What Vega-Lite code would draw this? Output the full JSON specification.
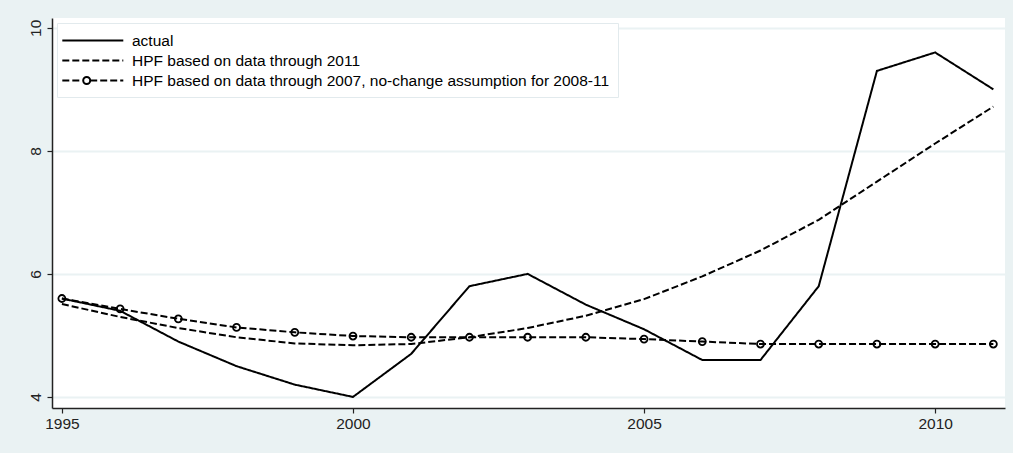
{
  "$schema": "https://vega.github.io/schema/vega-lite/v6.json",
  "width": 953,
  "height": 390,
  "autosize": {"type": "none"},
  "padding": {"left": 52, "top": 18, "right": 8, "bottom": 45},
  "background": "#eaf2f3",
  "config": {
    "view": {"fill": "white", "stroke": null},
    "font": "Liberation Sans",
    "axis": {
      "labelFont": "Liberation Sans",
      "labelFontSize": 15.5,
      "labelColor": "#222222",
      "domainColor": "#222222",
      "domainWidth": 1.5,
      "tickColor": "#222222",
      "tickSize": 5,
      "tickWidth": 1.2,
      "title": null
    }
  },
  "data": {
    "values": [
      {"year": 1995, "series": "actual", "value": 5.6},
      {"year": 1996, "series": "actual", "value": 5.4},
      {"year": 1997, "series": "actual", "value": 4.9},
      {"year": 1998, "series": "actual", "value": 4.5},
      {"year": 1999, "series": "actual", "value": 4.2},
      {"year": 2000, "series": "actual", "value": 4.0},
      {"year": 2001, "series": "actual", "value": 4.7},
      {"year": 2002, "series": "actual", "value": 5.8},
      {"year": 2003, "series": "actual", "value": 6.0},
      {"year": 2004, "series": "actual", "value": 5.5},
      {"year": 2005, "series": "actual", "value": 5.1},
      {"year": 2006, "series": "actual", "value": 4.6},
      {"year": 2007, "series": "actual", "value": 4.6},
      {"year": 2008, "series": "actual", "value": 5.8},
      {"year": 2009, "series": "actual", "value": 9.3},
      {"year": 2010, "series": "actual", "value": 9.6},
      {"year": 2011, "series": "actual", "value": 9.0},
      {"year": 1995, "series": "HPF based on data through 2011", "value": 5.51},
      {"year": 1996, "series": "HPF based on data through 2011", "value": 5.30},
      {"year": 1997, "series": "HPF based on data through 2011", "value": 5.12},
      {"year": 1998, "series": "HPF based on data through 2011", "value": 4.97},
      {"year": 1999, "series": "HPF based on data through 2011", "value": 4.87},
      {"year": 2000, "series": "HPF based on data through 2011", "value": 4.84},
      {"year": 2001, "series": "HPF based on data through 2011", "value": 4.86},
      {"year": 2002, "series": "HPF based on data through 2011", "value": 4.97},
      {"year": 2003, "series": "HPF based on data through 2011", "value": 5.12},
      {"year": 2004, "series": "HPF based on data through 2011", "value": 5.32},
      {"year": 2005, "series": "HPF based on data through 2011", "value": 5.59},
      {"year": 2006, "series": "HPF based on data through 2011", "value": 5.96},
      {"year": 2007, "series": "HPF based on data through 2011", "value": 6.38},
      {"year": 2008, "series": "HPF based on data through 2011", "value": 6.88},
      {"year": 2009, "series": "HPF based on data through 2011", "value": 7.50},
      {"year": 2010, "series": "HPF based on data through 2011", "value": 8.12},
      {"year": 2011, "series": "HPF based on data through 2011", "value": 8.72},
      {"year": 1995, "series": "HPF based on data through 2007, no-change assumption for 2008-11", "value": 5.60},
      {"year": 1996, "series": "HPF based on data through 2007, no-change assumption for 2008-11", "value": 5.43},
      {"year": 1997, "series": "HPF based on data through 2007, no-change assumption for 2008-11", "value": 5.27},
      {"year": 1998, "series": "HPF based on data through 2007, no-change assumption for 2008-11", "value": 5.13},
      {"year": 1999, "series": "HPF based on data through 2007, no-change assumption for 2008-11", "value": 5.05},
      {"year": 2000, "series": "HPF based on data through 2007, no-change assumption for 2008-11", "value": 4.99},
      {"year": 2001, "series": "HPF based on data through 2007, no-change assumption for 2008-11", "value": 4.97},
      {"year": 2002, "series": "HPF based on data through 2007, no-change assumption for 2008-11", "value": 4.97},
      {"year": 2003, "series": "HPF based on data through 2007, no-change assumption for 2008-11", "value": 4.97},
      {"year": 2004, "series": "HPF based on data through 2007, no-change assumption for 2008-11", "value": 4.97},
      {"year": 2005, "series": "HPF based on data through 2007, no-change assumption for 2008-11", "value": 4.94},
      {"year": 2006, "series": "HPF based on data through 2007, no-change assumption for 2008-11", "value": 4.90},
      {"year": 2007, "series": "HPF based on data through 2007, no-change assumption for 2008-11", "value": 4.86},
      {"year": 2008, "series": "HPF based on data through 2007, no-change assumption for 2008-11", "value": 4.86},
      {"year": 2009, "series": "HPF based on data through 2007, no-change assumption for 2008-11", "value": 4.86},
      {"year": 2010, "series": "HPF based on data through 2007, no-change assumption for 2008-11", "value": 4.86},
      {"year": 2011, "series": "HPF based on data through 2007, no-change assumption for 2008-11", "value": 4.86}
    ]
  },
  "encoding": {
    "x": {
      "field": "year",
      "type": "quantitative",
      "scale": {"domain": [1994.83, 2011.2], "nice": false, "zero": false},
      "axis": {"values": [1995, 2000, 2005, 2010], "format": "d", "grid": false, "labelPadding": 3}
    },
    "y": {
      "field": "value",
      "type": "quantitative",
      "scale": {"domain": [3.82, 10.16], "nice": false, "zero": false},
      "axis": {
        "values": [4, 6, 8, 10],
        "grid": true,
        "gridColor": "#eaf2f3",
        "gridWidth": 2,
        "labelAngle": -90,
        "labelAlign": "center",
        "labelBaseline": "bottom",
        "labelPadding": 4
      }
    }
  },
  "layer": [
    {
      "mark": {"type": "line", "color": "black", "strokeWidth": 2},
      "encoding": {
        "strokeDash": {
          "field": "series",
          "type": "nominal",
          "scale": {
            "domain": ["actual", "HPF based on data through 2011", "HPF based on data through 2007, no-change assumption for 2008-11"],
            "range": [[1, 0], [7, 3], [7, 3]]
          },
          "legend": {
            "title": null,
            "orient": "top-left",
            "offset": 5,
            "padding": 8,
            "fillColor": "white",
            "strokeColor": "#e2eaed",
            "labelFont": "Liberation Sans",
            "labelFontSize": 15.5,
            "labelColor": "black",
            "labelLimit": 800,
            "symbolSize": 289,
            "symbolStrokeWidth": 2,
            "symbolStrokeColor": "black",
            "symbolFillColor": "transparent",
            "symbolType": "M-1.435,0H5.741",
            "labelOffset": 48,
            "rowPadding": 2,
            "encode": {
              "symbols": {
                "update": {
                  "shape": [
                    {"test": "datum.value === 'HPF based on data through 2007, no-change assumption for 2008-11'", "value": "M-1.435,0H1.023M1.847,0H5.741M1.847,0A0.412,0.412 0 0 1 1.435,0.412M1.435,0.412A0.412,0.412 0 0 1 1.023,0M1.023,0A0.412,0.412 0 0 1 1.435,-0.412M1.435,-0.412A0.412,0.412 0 0 1 1.847,0"},
                    {"value": "M-1.435,0H5.741"}
                  ]
                }
              }
            }
          }
        }
      }
    },
    {
      "transform": [{"filter": "datum.series === 'HPF based on data through 2007, no-change assumption for 2008-11'"}],
      "mark": {"type": "point", "shape": "circle", "filled": false, "color": "black", "size": 49, "strokeWidth": 1.8, "opacity": 1}
    }
  ]
}
